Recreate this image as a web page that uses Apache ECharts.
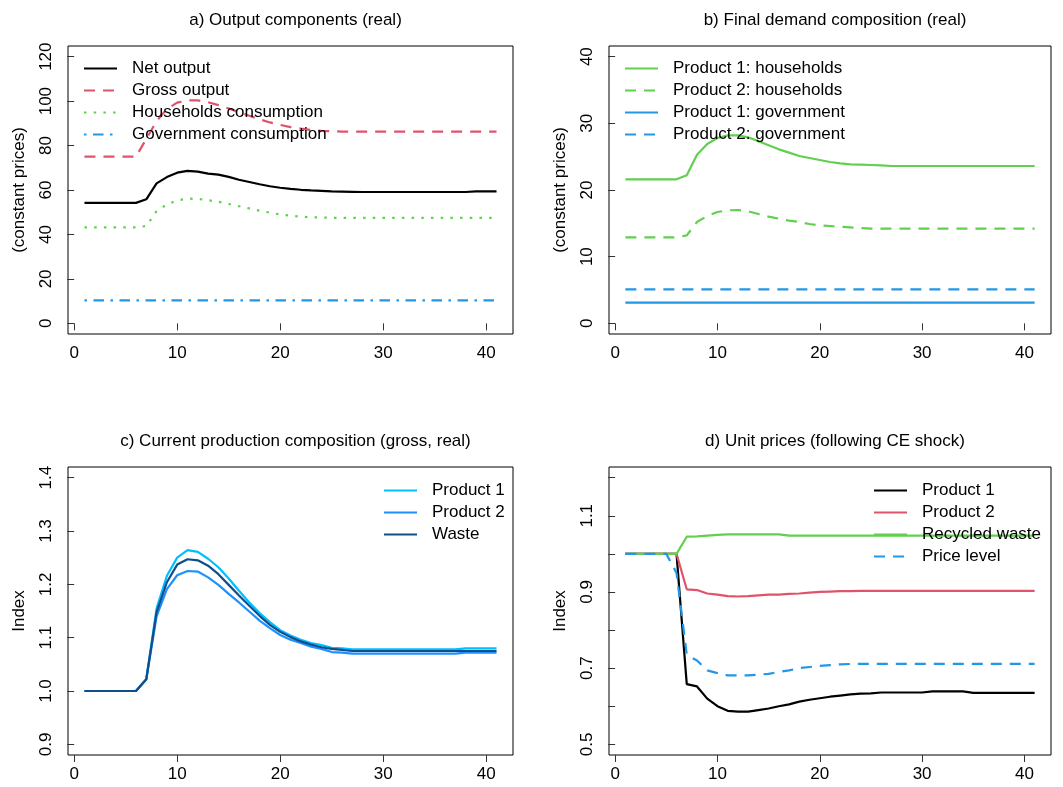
<!DOCTYPE html>
<html>
<head>
<meta charset="utf-8">
<title>Circular economy shock</title>
<script src="https://cdn.jsdelivr.net/npm/echarts@6/dist/echarts.min.js"></script>
<style>
  html, body { margin: 0; padding: 0; background: #fff; }
  #chart { width: 1063px; height: 787px; }
</style>
</head>
<body>
<div id="chart"></div>
<script>
// periods
var periods = [1, 2, 3, 4, 5, 6, 7, 8, 9, 10, 11, 12, 13, 14, 15, 16, 17, 18, 19, 20,
  21, 22, 23, 24, 25, 26, 27, 28, 29, 30, 31, 32, 33, 34, 35, 36, 37, 38, 39, 40, 41];

// a) output components (real)
var netOutput = [54.2, 54.2, 54.2, 54.2, 54.2, 54.2, 55.8, 63.0, 65.8, 67.8, 68.6, 68.3, 67.4, 66.9,
  65.9, 64.6, 63.6, 62.6, 61.7, 61.0, 60.5, 60.1, 59.8, 59.6, 59.4, 59.3, 59.2, 59.1, 59.1, 59.1,
  59.1, 59.1, 59.1, 59.1, 59.1, 59.1, 59.1, 59.1, 59.4, 59.4, 59.4];
var grossOutput = [75.0, 75.0, 75.0, 75.0, 75.0, 75.0, 83.0, 91.0, 96.5, 99.3, 100.3, 100.3, 99.5,
  98.2, 96.7, 95.0, 93.4, 91.8, 90.4, 89.3, 88.3, 87.6, 87.0, 86.6, 86.4, 86.3, 86.3, 86.3, 86.3,
  86.3, 86.3, 86.3, 86.3, 86.3, 86.3, 86.3, 86.3, 86.3, 86.3, 86.3, 86.3];
var hhConsumption = [43.2, 43.2, 43.2, 43.2, 43.2, 43.2, 43.8, 50.5, 53.5, 55.3, 56.1, 56.0, 55.4,
  54.7, 53.7, 52.7, 51.7, 50.7, 49.8, 49.0, 48.4, 48.0, 47.7, 47.6, 47.5, 47.5, 47.5, 47.5, 47.5,
  47.5, 47.5, 47.5, 47.5, 47.5, 47.5, 47.5, 47.5, 47.5, 47.5, 47.5, 47.5];
var govConsumption = [10.3, 10.3, 10.3, 10.3, 10.3, 10.3, 10.3, 10.3, 10.3, 10.3, 10.3, 10.3, 10.3,
  10.3, 10.3, 10.3, 10.3, 10.3, 10.3, 10.3, 10.3, 10.3, 10.3, 10.3, 10.3, 10.3, 10.3, 10.3, 10.3,
  10.3, 10.3, 10.3, 10.3, 10.3, 10.3, 10.3, 10.3, 10.3, 10.3, 10.3, 10.3];

// b) final demand composition (real)
var p1Households = [21.6, 21.6, 21.6, 21.6, 21.6, 21.6, 22.2, 25.3, 26.9, 27.8, 28.2, 28.2, 27.9,
  27.3, 26.7, 26.1, 25.6, 25.1, 24.8, 24.5, 24.2, 24.0, 23.85, 23.8, 23.75, 23.7, 23.6, 23.6, 23.6,
  23.6, 23.6, 23.6, 23.6, 23.6, 23.6, 23.6, 23.6, 23.6, 23.6, 23.6, 23.6];
var p2Households = [12.9, 12.9, 12.9, 12.9, 12.9, 12.9, 13.2, 15.2, 16.1, 16.7, 16.95, 17.0, 16.8,
  16.4, 16.0, 15.7, 15.4, 15.2, 14.9, 14.7, 14.6, 14.5, 14.4, 14.3, 14.2, 14.2, 14.2, 14.2, 14.2,
  14.2, 14.2, 14.2, 14.2, 14.2, 14.2, 14.2, 14.2, 14.2, 14.2, 14.2, 14.2];
var p1Government = [3.1, 3.1, 3.1, 3.1, 3.1, 3.1, 3.1, 3.1, 3.1, 3.1, 3.1, 3.1, 3.1, 3.1, 3.1, 3.1,
  3.1, 3.1, 3.1, 3.1, 3.1, 3.1, 3.1, 3.1, 3.1, 3.1, 3.1, 3.1, 3.1, 3.1, 3.1, 3.1, 3.1, 3.1, 3.1,
  3.1, 3.1, 3.1, 3.1, 3.1, 3.1];
var p2Government = [5.1, 5.1, 5.1, 5.1, 5.1, 5.1, 5.1, 5.1, 5.1, 5.1, 5.1, 5.1, 5.1, 5.1, 5.1, 5.1,
  5.1, 5.1, 5.1, 5.1, 5.1, 5.1, 5.1, 5.1, 5.1, 5.1, 5.1, 5.1, 5.1, 5.1, 5.1, 5.1, 5.1, 5.1, 5.1,
  5.1, 5.1, 5.1, 5.1, 5.1, 5.1];

// c) current production composition (gross, real), index
var prod1Index = [1.0, 1.0, 1.0, 1.0, 1.0, 1.0, 1.022, 1.155, 1.216, 1.250, 1.264, 1.261, 1.248,
  1.232, 1.211, 1.188, 1.166, 1.146, 1.129, 1.114, 1.104, 1.096, 1.090, 1.086, 1.081, 1.080, 1.078,
  1.078, 1.078, 1.078, 1.078, 1.078, 1.078, 1.078, 1.078, 1.078, 1.078, 1.080, 1.080, 1.080, 1.080];
var prod2Index = [1.0, 1.0, 1.0, 1.0, 1.0, 1.0, 1.022, 1.140, 1.191, 1.217, 1.225, 1.224, 1.213,
  1.199, 1.182, 1.166, 1.149, 1.132, 1.118, 1.105, 1.096, 1.090, 1.083, 1.079, 1.073, 1.072, 1.070,
  1.070, 1.070, 1.070, 1.070, 1.070, 1.070, 1.070, 1.070, 1.070, 1.070, 1.072, 1.072, 1.072, 1.072];
var wasteIndex = [1.0, 1.0, 1.0, 1.0, 1.0, 1.0, 1.022, 1.148, 1.204, 1.237, 1.247, 1.245, 1.235,
  1.219, 1.199, 1.179, 1.160, 1.141, 1.124, 1.111, 1.101, 1.093, 1.087, 1.082, 1.079, 1.077, 1.075,
  1.075, 1.075, 1.075, 1.075, 1.075, 1.075, 1.075, 1.075, 1.075, 1.075, 1.075, 1.075, 1.075, 1.075];

// d) unit prices (following CE shock)
var prod1Price = [1.0, 1.0, 1.0, 1.0, 1.0, 1.0, 0.658, 0.652, 0.620, 0.600, 0.588, 0.586, 0.586,
  0.590, 0.594, 0.600, 0.605, 0.612, 0.617, 0.621, 0.625, 0.628, 0.631, 0.633, 0.634, 0.636, 0.636,
  0.636, 0.636, 0.636, 0.639, 0.639, 0.639, 0.639, 0.635, 0.635, 0.635, 0.635, 0.635, 0.635, 0.635];
var prod2Price = [1.0, 1.0, 1.0, 1.0, 1.0, 1.0, 0.907, 0.905, 0.896, 0.893, 0.889, 0.888, 0.889,
  0.891, 0.893, 0.893, 0.895, 0.896, 0.898, 0.900, 0.901, 0.902, 0.902, 0.903, 0.903, 0.903, 0.903,
  0.903, 0.903, 0.903, 0.903, 0.903, 0.903, 0.903, 0.903, 0.903, 0.903, 0.903, 0.903, 0.903, 0.903];
var wastePrice = [1.0, 1.0, 1.0, 1.0, 1.0, 1.0, 1.045, 1.046, 1.048, 1.050, 1.051, 1.051, 1.051,
  1.051, 1.051, 1.051, 1.048, 1.048, 1.048, 1.048, 1.048, 1.048, 1.048, 1.048, 1.048, 1.048, 1.048,
  1.048, 1.048, 1.048, 1.048, 1.048, 1.048, 1.048, 1.048, 1.048, 1.048, 1.048, 1.048, 1.048, 1.048];
var priceLevel = [1.0, 1.0, 1.0, 1.0, 1.0, 0.950, 0.735, 0.720, 0.694, 0.687, 0.681, 0.681, 0.681,
  0.683, 0.685, 0.690, 0.694, 0.700, 0.703, 0.706, 0.708, 0.710, 0.711, 0.711, 0.711, 0.711, 0.711,
  0.711, 0.711, 0.711, 0.711, 0.711, 0.711, 0.711, 0.711, 0.711, 0.711, 0.711, 0.711, 0.711, 0.711];

var xTicks = [0, 10, 20, 30, 40];
var yTicksA = [0, 20, 40, 60, 80, 100, 120];
var yTicksB = [0, 10, 20, 30, 40];
var yTicksC = [0.9, 1.0, 1.1, 1.2, 1.3, 1.4];
var yTicksD = [0.5, 0.6, 0.7, 0.8, 0.9, 1.0, 1.1, 1.2];
var yLabelsD = [0.5, 0.7, 0.9, 1.1];

var titles = ['a) Output components (real)', 'b) Final demand composition (real)',
  'c) Current production composition (gross, real)', 'd) Unit prices (following CE shock)'];

var FONT = 'Liberation Sans, Arial, sans-serif';
var FS = 17;
var DASH = [11, 8];
var DOT = [2.5, 7.2];
var DOTDASH = [2.5, 6.5, 10.5, 6.5];

// plot boxes (R style, range padded by 4%)
var boxes = [
  { left: 68, top: 46, width: 445, height: 288 },
  { left: 609, top: 46, width: 442, height: 288 },
  { left: 68, top: 467, width: 445, height: 288 },
  { left: 609, top: 467, width: 442, height: 288 }
];
var yRanges = [[0, 120], [0, 40], [0.9, 1.4], [0.5, 1.2]];
var yNames = ['(constant prices)', '(constant prices)', 'Index', 'Index'];
var yTickSets = [yTicksA, yTicksB, yTicksC, yTicksD];
var yLabelSets = [yTicksA, yTicksB, yTicksC, yLabelsD];

function pad (r) {
  var d = (r[1] - r[0]) * 0.04;
  return [r[0] - d, r[1] + d];
}

function pairs (vals) {
  return periods.map(function (p, i) { return [p, vals[i]]; });
}

var grid = [], xAxis = [], yAxis = [], title = [];
boxes.forEach(function (b, i) {
  grid.push({ left: b.left, top: b.top, width: b.width, height: b.height,
    show: true, borderColor: '#000', borderWidth: 1, backgroundColor: 'transparent' });
  var xr = pad([1, 41]);
  xAxis.push({
    type: 'value', gridIndex: i, min: xr[0], max: xr[1],
    axisLine: { show: false },
    splitLine: { show: false },
    axisTick: { show: true, length: 7, customValues: xTicks, lineStyle: { color: '#333' } },
    axisLabel: { customValues: xTicks, margin: 11, fontSize: FS, fontFamily: FONT, color: '#000' }
  });
  var yr = pad(yRanges[i]);
  var dec = i >= 2;
  yAxis.push({
    type: 'value', gridIndex: i, min: yr[0], max: yr[1],
    name: yNames[i], nameLocation: 'middle', nameGap: 40,
    nameTextStyle: { fontSize: FS, fontFamily: FONT, color: '#000' },
    axisLine: { show: false },
    splitLine: { show: false },
    axisTick: { show: true, length: 7, customValues: yTickSets[i], lineStyle: { color: '#333' } },
    axisLabel: {
      customValues: yLabelSets[i], rotate: 90, margin: 13, fontSize: FS, fontFamily: FONT, color: '#000',
      formatter: function (v) { return dec ? (+v).toFixed(1) : String(Math.round(v)); }
    }
  });
  title.push({
    text: titles[i], left: b.left + b.width / 2, top: i < 2 ? 7 : 428, textAlign: 'center',
    textStyle: { fontSize: FS, fontWeight: 'normal', fontFamily: FONT, color: '#000' }
  });
});

function line (panel, name, vals, color, type) {
  return {
    type: 'line', name: panel + '|' + name, xAxisIndex: 'abcd'.indexOf(panel),
    yAxisIndex: 'abcd'.indexOf(panel), data: pairs(vals),
    symbol: 'none', showSymbol: false, silent: true,
    lineStyle: { color: color, width: 2.2, type: type || 'solid', cap: 'butt' },
    itemStyle: { color: color }
  };
}

var series = [
  line('a', 'Net output', netOutput, '#000000'),
  line('a', 'Gross output', grossOutput, '#DF536B', DASH),
  line('a', 'Households consumption', hhConsumption, '#61D04F', DOT),
  line('a', 'Government consumption', govConsumption, '#2297E6', DOTDASH),
  line('b', 'Product 1: households', p1Households, '#61D04F'),
  line('b', 'Product 2: households', p2Households, '#61D04F', DASH),
  line('b', 'Product 1: government', p1Government, '#2297E6'),
  line('b', 'Product 2: government', p2Government, '#2297E6', DASH),
  line('c', 'Product 1', prod1Index, '#00BFFF'),
  line('c', 'Product 2', prod2Index, '#1E90FF'),
  line('c', 'Waste', wasteIndex, '#104E8B'),
  line('d', 'Product 1', prod1Price, '#000000'),
  line('d', 'Product 2', prod2Price, '#DF536B'),
  line('d', 'Recycled waste', wastePrice, '#61D04F'),
  line('d', 'Price level', priceLevel, '#2297E6', DASH)
];

function legendFor (panel, left, top) {
  return {
    orient: 'vertical', left: left, top: top, padding: 0,
    itemWidth: 33, itemHeight: 14, itemGap: 5, selectedMode: false,
    // hide the marker dot, keep only the line sample like R's legend()
    itemStyle: { opacity: 0 },
    data: series.filter(function (s) { return s.name.charAt(0) === panel; })
      .map(function (s) { return s.name; }),
    formatter: function (n) { return n.split('|')[1]; },
    textStyle: { fontSize: FS, fontFamily: FONT, color: '#000', padding: [0, 0, 0, 10] }
  };
}

var option = {
  animation: false,
  backgroundColor: '#fff',
  title: title,
  grid: grid,
  xAxis: xAxis,
  yAxis: yAxis,
  legend: [
    legendFor('a', 83, 60),
    legendFor('b', 624, 60),
    legendFor('c', 383, 482),
    legendFor('d', 873, 482)
  ],
  series: series
};

var chart = echarts.init(document.getElementById('chart'));
chart.setOption(option);
window.addEventListener('resize', function () { chart.resize(); });
</script>
</body>
</html>
